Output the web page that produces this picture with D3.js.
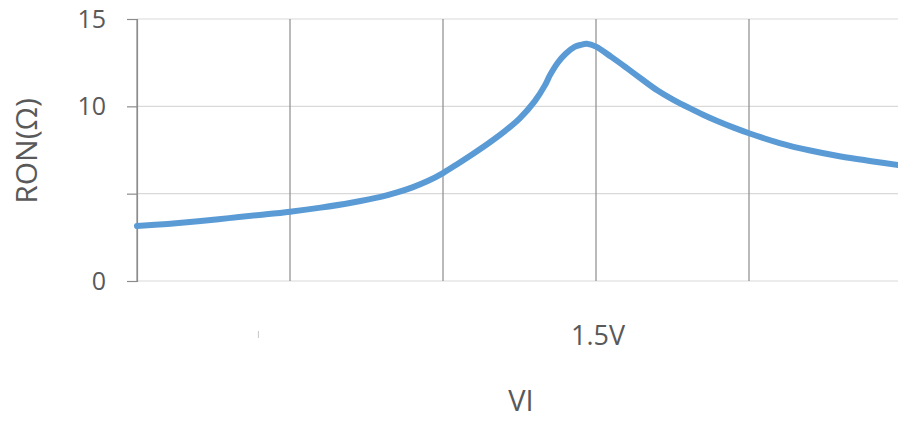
<!DOCTYPE html>
<html>
<head>
<meta charset="utf-8">
<script src="https://cdn.jsdelivr.net/npm/d3@7"></script>
<style>
  body { margin: 0; background: #fff; }
  text { font-family: "Open Sans", "Noto Sans", sans-serif; fill: #595959; }
</style>
</head>
<body>
<div id="chart"></div>
<script>
// Data (VI in volts, RON in ohms)
var vi  = [0.0, 0.1, 0.2, 0.3, 0.4, 0.5, 0.6, 0.7, 0.8, 0.85, 0.9, 0.95, 1.0, 1.05, 1.1, 1.15, 1.2, 1.25, 1.3, 1.333, 1.35, 1.375, 1.4, 1.43, 1.45, 1.47, 1.5, 1.55, 1.6, 1.65, 1.7, 1.75, 1.8, 1.85, 1.9, 1.95, 2.0, 2.1, 2.2, 2.3, 2.4, 2.49];
var ron = [3.15, 3.27, 3.42, 3.6, 3.78, 3.97, 4.2, 4.48, 4.83, 5.07, 5.36, 5.72, 6.18, 6.73, 7.3, 7.9, 8.55, 9.3, 10.3, 11.2, 11.8, 12.5, 13.0, 13.4, 13.52, 13.58, 13.42, 12.83, 12.2, 11.55, 10.92, 10.4, 9.95, 9.52, 9.13, 8.78, 8.46, 7.9, 7.47, 7.13, 6.86, 6.63];
var yTicks = [0, 5, 10, 15];
var yTickLabels = ["0", "", "10", "15"];
var xGrid = [0, 0.5, 1.0, 1.5, 2.0, 2.5];
var xLabelValue = 1.5, xLabelText = "1.5V";

var W = 898, H = 421;
var margin = {top: 19, right: -4, bottom: 140, left: 137},
    width = W - margin.left - margin.right,
    height = H - margin.top - margin.bottom;

var svg = d3.select("#chart")
  .append("svg")
    .attr("width", W)
    .attr("height", H);

var g = svg.append("g")
    .attr("transform", `translate(${margin.left},${margin.top})`);

var x = d3.scaleLinear().domain([0, 2.5]).range([0, width]);
var y = d3.scaleLinear().domain([0, 15]).range([height, 0]);

// horizontal gridlines
g.selectAll(".hgrid")
  .data(yTicks)
  .enter().append("line")
    .attr("x1", 0).attr("x2", width)
    .attr("y1", d => y(d)).attr("y2", d => y(d))
    .attr("stroke", "#d9d9d9").attr("stroke-width", 1.2);

// vertical gridlines (darker)
g.selectAll(".vgrid")
  .data(xGrid)
  .enter().append("line")
    .attr("x1", d => x(d)).attr("x2", d => x(d))
    .attr("y1", 0).attr("y2", height)
    .attr("stroke", "#8c8c8c").attr("stroke-width", 1.2);

// y axis
var yAxis = g.append("g")
  .call(d3.axisLeft(y).tickValues(yTicks).tickSize(10).tickPadding(21)
    .tickFormat((d, i) => yTickLabels[i]));
yAxis.select(".domain").attr("stroke", "#8c8c8c").attr("stroke-width", 1.2);
yAxis.selectAll(".tick line").attr("stroke", "#8c8c8c").attr("stroke-width", 1.2);
yAxis.selectAll(".tick text")
  .style("font-size", "25px")
  .attr("fill", "#595959")
  .style("font-family", "'Open Sans', 'Noto Sans', sans-serif");

// curve
var line = d3.line()
  .x((d, i) => x(vi[i]))
  .y(d => y(d))
  .curve(d3.curveCatmullRom.alpha(0.5));

g.append("path")
  .datum(ron)
  .attr("d", line)
  .attr("fill", "none")
  .attr("stroke", "#5b9bd5")
  .attr("stroke-width", 6)
  .attr("stroke-linecap", "round");

// x label
g.append("text")
  .attr("x", x(xLabelValue) + 2)
  .attr("y", height + 64)
  .attr("text-anchor", "middle")
  .style("font-size", "27px")
  .text(xLabelText);

// faint stray mark under the second column
g.append("line")
  .attr("x1", x(0.4) - 1).attr("x2", x(0.4) - 1)
  .attr("y1", height + 50).attr("y2", height + 57)
  .attr("stroke", "#c8c8c8").attr("stroke-width", 1);

// axis titles
svg.append("text")
  .attr("x", 521)
  .attr("y", 411)
  .attr("text-anchor", "middle")
  .style("font-size", "29px")
  .text("VI");

svg.append("text")
  .attr("transform", "translate(37,151) rotate(-90)")
  .attr("text-anchor", "middle")
  .style("font-size", "30px")
  .text("RON(Ω)");
</script>
</body>
</html>
